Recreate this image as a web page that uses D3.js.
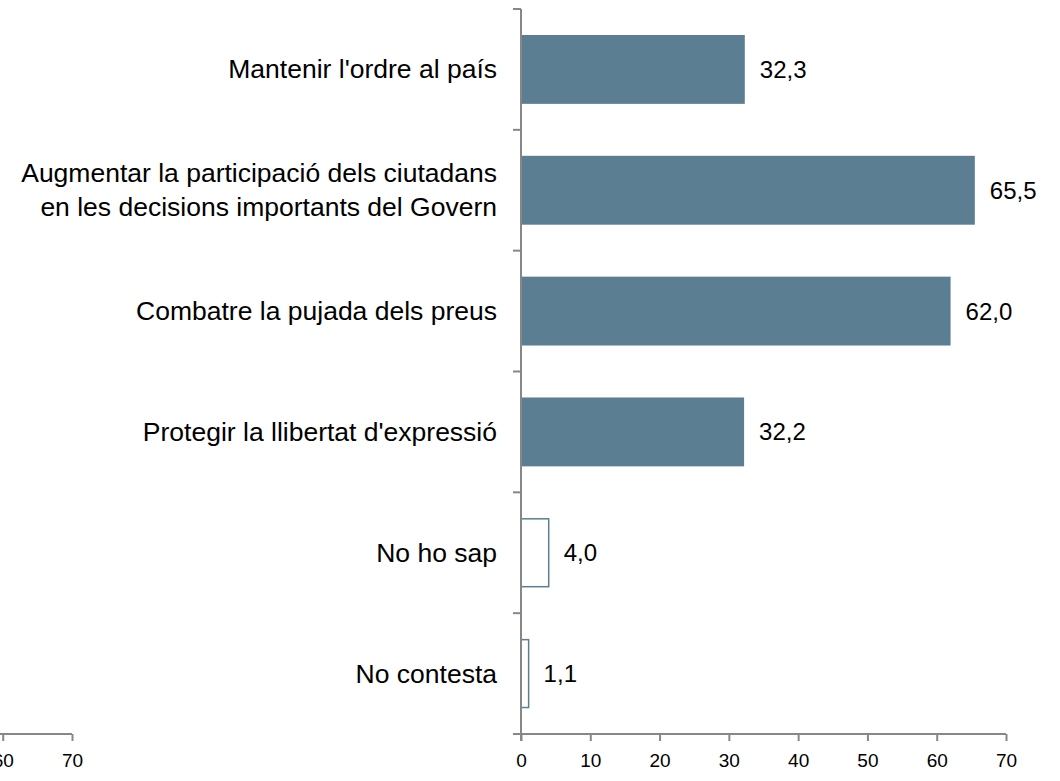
<!DOCTYPE html>
<html>
<head>
<meta charset="utf-8">
<script src="https://cdn.jsdelivr.net/npm/d3@7/dist/d3.min.js"></script>
<style>
  html, body { margin: 0; padding: 0; background: #ffffff; }
  svg { display: block; }
  text { font-family: "Liberation Sans", Arial, sans-serif; fill: #000; }
</style>
</head>
<body>
<svg id="chart" width="1060" height="781"></svg>
<script>
const categories = [
  ["Mantenir l'ordre al país"],
  ["Augmentar la participació dels ciutadans", "en les decisions importants del Govern"],
  ["Combatre la pujada dels preus"],
  ["Protegir la llibertat d'expressió"],
  ["No ho sap"],
  ["No contesta"]
];
const values = [32.3, 65.5, 62.0, 32.2, 4.0, 1.1];
const filled = [true, true, true, true, false, false];
const tickValues = [0, 10, 20, 30, 40, 50, 60, 70];
const ghostTickValues = [60, 70];

const svg = d3.select("#chart");
const axisColor = "#878787";
const barColor = "#5b7e92";

const x = d3.scaleLinear().domain([0, 70]).range([521, 1006]);
const y = d3.scaleBand().domain(d3.range(categories.length)).range([9, 734])
  .paddingInner(0.43).paddingOuter(0.215);
const step = y.step();
const y0 = 9;

// bars
svg.selectAll("rect.bar").data(values).enter().append("rect")
  .attr("x", x(0))
  .attr("y", (d, i) => y(i) + (filled[i] ? 0 : 0.5))
  .attr("width", d => x(d) - x(0))
  .attr("height", (d, i) => y.bandwidth() - (filled[i] ? 0 : 1))
  .attr("fill", (d, i) => filled[i] ? barColor : "#fff")
  .attr("stroke", (d, i) => filled[i] ? "none" : barColor)
  .attr("stroke-width", 1.5);

// vertical axis line with band ticks
svg.append("line").attr("x1", x(0)).attr("x2", x(0)).attr("y1", y0).attr("y2", 741)
  .attr("stroke", axisColor).attr("stroke-width", 2);
svg.selectAll("line.ytick").data(d3.range(categories.length + 1)).enter().append("line")
  .attr("x1", x(0) - 8).attr("x2", x(0))
  .attr("y1", i => y0 + i * step).attr("y2", i => y0 + i * step)
  .attr("stroke", axisColor).attr("stroke-width", 2);

// bottom axis
function drawXAxis(scale, yPos, ticks) {
  const g = svg.append("g").attr("transform", `translate(0,${yPos})`)
    .call(d3.axisBottom(scale).tickValues(ticks).tickSize(7).tickSizeOuter(0).tickPadding(13));
  g.select(".domain").attr("stroke", axisColor).attr("stroke-width", 2)
    .attr("d", `M${Math.max(0, scale(0) - 8)},0H${scale(70)}`);
  g.selectAll(".tick line").attr("stroke", axisColor).attr("stroke-width", 2);
  g.selectAll(".tick text").attr("font-size", 19).attr("font-family", "Liberation Sans, Arial, sans-serif").attr("fill", "#000");
  return g;
}
drawXAxis(x, 734, tickValues);
// partial axis of neighbouring chart at the left edge
const xGhost = d3.scaleLinear().domain([0, 70]).range([521 - 934, 1006 - 934]);
drawXAxis(xGhost, 734, ghostTickValues);

// category labels
categories.forEach((lines, i) => {
  const cy = y(i) + y.bandwidth() / 2;
  const t = svg.append("text").attr("text-anchor", "end").attr("font-size", 26.5)
    .attr("x", 497).attr("y", cy).attr("dominant-baseline", "central");
  const lh = 34;
  lines.forEach((ln, j) => {
    t.append("tspan").attr("x", 497)
      .attr("y", cy + (j - (lines.length - 1) / 2) * lh)
      .text(ln);
  });
});

// value labels
svg.selectAll("text.val").data(values).enter().append("text")
  .attr("x", d => x(d) + 15)
  .attr("y", (d, i) => y(i) + y.bandwidth() / 2)
  .attr("dominant-baseline", "central")
  .attr("font-size", 24)
  .text(d => d.toFixed(1).replace(".", ","));
</script>
</body>
</html>
